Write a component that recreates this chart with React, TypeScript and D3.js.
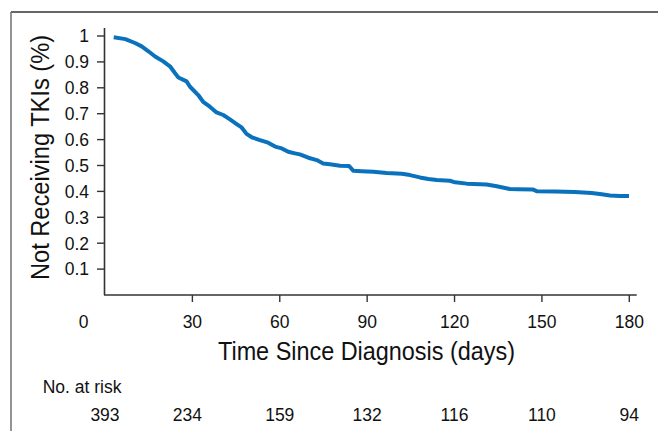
import React from 'react';
import * as d3 from 'd3';

// Kaplan-Meier style curve (day, proportion not receiving TKIs)
const days = [
  3, 7, 10.3, 12.6, 14.9, 17.2, 20, 22.3, 24, 25.2, 28, 29.2, 32, 33.7, 36, 38.3, 40.6, 42.9,
  45.2, 46.9, 48.6, 50.4, 53.2, 56, 58.4, 60.7, 62.9, 65.2, 66.9, 69.8, 72.7, 74.9, 77.2, 80.7,
  83.8, 85.2, 88.1, 92.1, 96.7, 101.9, 104.7, 108.1, 111, 113.9, 118.4, 120.2, 124.2, 131,
  134.5, 139, 141.9, 147, 148.2, 154.5, 161.3, 167.1, 170.5, 173.4, 176.8, 179.9,
];
const notReceiving = [
  0.995, 0.988, 0.973, 0.96, 0.941, 0.921, 0.902, 0.883, 0.857, 0.84, 0.825, 0.804, 0.772, 0.746,
  0.727, 0.705, 0.695, 0.678, 0.66, 0.647, 0.622, 0.609, 0.598, 0.588, 0.573, 0.566, 0.553, 0.547,
  0.543, 0.53, 0.521, 0.508, 0.505, 0.499, 0.498, 0.48, 0.478, 0.476, 0.471, 0.468, 0.463, 0.454,
  0.448, 0.444, 0.441, 0.435, 0.43, 0.427, 0.42, 0.409, 0.408, 0.407, 0.401, 0.4, 0.398, 0.394,
  0.389, 0.384, 0.382, 0.382,
];

const xTicks = [0, 30, 60, 90, 120, 150, 180];
const yTicks = [0.1, 0.2, 0.3, 0.4, 0.5, 0.6, 0.7, 0.8, 0.9, 1];
const yTickLabels = ['0.1', '0.2', '0.3', '0.4', '0.5', '0.6', '0.7', '0.8', '0.9', '1'];
const atRisk = [393, 234, 159, 132, 116, 110, 94];

const W = 658;
const H = 431;
const font = '"Liberation Sans", Arial, Helvetica, sans-serif';
const narrow = '"Liberation Sans Narrow", "Liberation Sans", Arial, sans-serif';

export default function App() {
  const x = d3.scaleLinear().domain([0, 180]).range([105, 629.3]);
  const y = d3.scaleLinear().domain([0, 1]).range([295, 36]);

  const pts = days.map((d, i) => ({ d, v: notReceiving[i] }));
  const line = d3.line<{ d: number; v: number }>()
    .x(p => x(p.d))
    .y(p => y(p.v))
    .curve(d3.curveLinear);

  const axisColor = '#333';

  return (
    <svg width={W} height={H} style={{ position: 'absolute', left: 0, top: 0, background: '#fff' }}>
      {/* outer frame */}
      <line x1={11} x2={W} y1={12} y2={12} stroke="#333" strokeWidth={1.4} />
      <line x1={11} x2={11} y1={12} y2={H} stroke="#666" strokeWidth={1.4} />

      {/* axes */}
      <line x1={x(0) - 0.5} x2={x(0) - 0.5} y1={28} y2={y(0)} stroke={axisColor} strokeWidth={1.6} />
      <line x1={x(0) - 1} x2={636.7} y1={y(0)} y2={y(0)} stroke={axisColor} strokeWidth={1.6} />

      {yTicks.map((t, i) => (
        <g key={t}>
          <line x1={x(0) - 8} x2={x(0)} y1={y(t)} y2={y(t)} stroke={axisColor} strokeWidth={1.4} />
          <text x={89} y={y(t)} dy="0.36em" textAnchor="end" fontFamily={font} fontSize={17.5} fill="#111">
            {yTickLabels[i]}
          </text>
        </g>
      ))}

      {xTicks.map(t => (
        <g key={t}>
          {t > 0 && (
            <line x1={x(t)} x2={x(t)} y1={y(0)} y2={y(0) + 7} stroke={axisColor} strokeWidth={1.4} />
          )}
          <text x={t === 0 ? 83.5 : x(t)} y={328} textAnchor="middle" fontFamily={font} fontSize={17.5} fill="#111">
            {t}
          </text>
        </g>
      ))}

      {/* curve */}
      <path d={line(pts) ?? ''} fill="none" stroke="#0a72bd" strokeWidth={4} strokeLinejoin="round" />

      {/* axis titles */}
      <text x={218} y={360} fontFamily={narrow} fontSize={25} fill="#111" textLength={297} lengthAdjust="spacingAndGlyphs">
        Time Since Diagnosis (days)
      </text>
      <text
        transform="translate(49,280) rotate(-90)"
        fontFamily={narrow}
        fontSize={25}
        fill="#111"
        textLength={245}
        lengthAdjust="spacingAndGlyphs"
      >
        Not Receiving TKIs (%)
      </text>

      {/* number at risk */}
      <text x={42.7} y={393} fontFamily={font} fontSize={17.5} fill="#111">No. at risk</text>
      {atRisk.map((n, i) => (
        <text key={i} x={x(xTicks[i]) - (i === 1 ? 5 : 0)} y={421} textAnchor="middle" fontFamily={font} fontSize={17.5} fill="#111">
          {n}
        </text>
      ))}
    </svg>
  );
}
